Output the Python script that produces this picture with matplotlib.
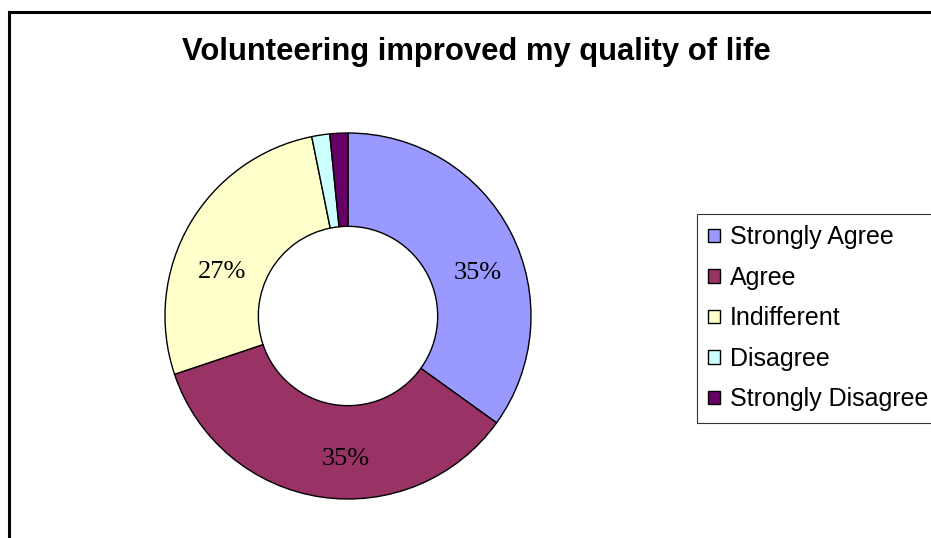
import matplotlib.pyplot as plt
from matplotlib.patches import Rectangle

# survey responses (counts)
labels = ['Strongly Agree', 'Agree', 'Indifferent', 'Disagree', 'Strongly Disagree']
counts = [22, 22, 17, 1, 1]
colors = ['#9999FF', '#993366', '#FFFFCC', '#CCFFFF', '#660066']

W, H = 931, 538
fig = plt.figure(figsize=(W / 100, H / 100), dpi=100)

# doughnut centre and outer radius in pixels
cx, cy, R = 348, 316, 183
half = 200
ax = fig.add_axes([(cx - half) / W, (H - cy - half) / H, 2 * half / W, 2 * half / H])

def pct_label(p):
    return '%.0f%%' % p if p > 5 else ''

wedges, texts, autotexts = ax.pie(
    counts, colors=colors, startangle=90, counterclock=False,
    autopct=pct_label, pctdistance=0.76,
    wedgeprops=dict(width=0.51, edgecolor='black', linewidth=1.0),
    textprops=dict(family='Liberation Serif', fontsize=19, color='black'))
ax.set_xlim(-half / R, half / R)
ax.set_ylim(-half / R, half / R)
ax.set_aspect('equal')

# small nudges so the percentages sit lower in the ring
nudge = [(0.03, -0.11), (0.10, -0.03), (-0.03, -0.14), (0, 0), (0, 0)]
for t, (dx, dy) in zip(autotexts, nudge):
    x, y = t.get_position()
    t.set_position((x + dx, y + dy))

fig.text(476 / W, 1 - 52 / H, 'Volunteering improved my quality of life',
         ha='center', va='center', fontsize=22.3, fontweight='bold',
         family='Liberation Sans')

leg = fig.legend(wedges, labels, loc='upper left',
                 bbox_to_anchor=(697 / W, 1 - 214 / H), borderaxespad=0,
                 prop=dict(family='Liberation Sans', size=18),
                 fancybox=False, shadow=False, frameon=True,
                 handlelength=0.45, handleheight=0.45, handletextpad=0.4,
                 labelspacing=0.66, borderpad=0.45)
leg.get_frame().set_edgecolor('black')
leg.get_frame().set_linewidth(0.8)

# chart-area border
fig.patches.append(Rectangle((8.5 / W, -0.1), 1.2, 1.1 - 11.5 / H,
                             transform=fig.transFigure, fill=False,
                             edgecolor='black', linewidth=2.2))

fig.savefig('out.png', dpi=100)
